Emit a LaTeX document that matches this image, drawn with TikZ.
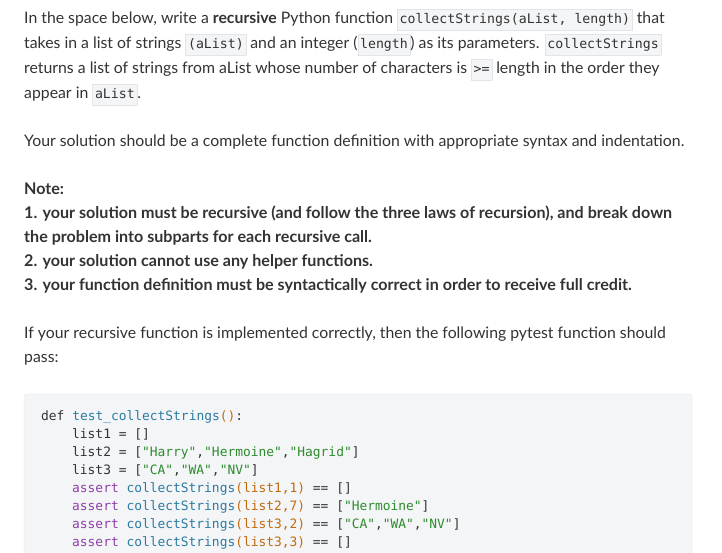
\documentclass[tikz,border=0pt]{standalone}
\usepackage{fontspec}
\setmainfont{Lato}
\setmonofont{DejaVu Sans Mono}
\definecolor{txt}{HTML}{333333}
\definecolor{cbg}{HTML}{F4F5F7}
\definecolor{cbd}{HTML}{E3E4E8}
\definecolor{fn}{HTML}{2B7BA3}
\definecolor{par}{HTML}{C26A10}
\definecolor{str}{HTML}{2E8B2E}
\definecolor{kw}{HTML}{8E3FA8}
\newcommand\ic[1]{{\setlength\fboxsep{2pt}\setlength\fboxrule{0.6pt}\fcolorbox{cbd}{cbg}{\strut\fontsize{13.2}{14}\ttfamily #1}}}
\newcommand\cFn[1]{\textcolor{fn}{#1}}
\newcommand\cPa[1]{\textcolor{par}{#1}}
\newcommand\cSt[1]{\textcolor{str}{#1}}
\newcommand\cKw[1]{\textcolor{kw}{#1}}
\tikzset{tl/.style={anchor=base west,inner sep=0pt,text=txt,font=\fontsize{15.8}{17}\selectfont},
bl/.style={tl,font=\fontsize{16.1}{17}\bfseries},
cl/.style={anchor=base west,inner sep=0pt,text=txt,font=\fontsize{12.9}{15}\ttfamily}}
\begin{document}
\begin{tikzpicture}[x=1pt,y=-1pt]
\useasboundingbox[fill=white] (0,0) rectangle (722,552);
\node[tl] (l1) at (24,23) {In the space below, write a \textbf{recursive} Python function \ic{collectStrings(aList, length)} that};
\node[tl] (l2) at (24,48) {takes in a list of strings \ic{(aList)} and an integer (\ic{length}) as its parameters. \ic{collectStrings}};
\node[tl] (l3) at (24,73) {returns a list of strings from aList whose number of characters is \ic{>=} length in the order they};
\node[tl] (l4) at (24,98) {appear in \ic{aList}.};
\node[tl] (p2) at (24,146) {Your solution should be a complete function definition with appropriate syntax and indentation.};
\node[bl] (n0) at (24,194) {Note:};
\node[bl] (n1) at (24,218) {1. your solution must be recursive (and follow the three laws of recursion), and break down};
\node[bl] (n2) at (24,242) {the problem into subparts for each recursive call.};
\node[bl] (n3) at (24,266) {2. your solution cannot use any helper functions.};
\node[bl] (n4) at (24,290) {3. your function definition must be syntactically correct in order to receive full credit.};
\node[tl] (i1) at (24,338) {If your recursive function is implemented correctly, then the following pytest function should};
\node[tl] (i2) at (24,362) {pass:};
\draw[cbd,fill=cbg,rounded corners=3pt] (24,394) rectangle (692,560);
\node[cl] (c1) at (41,420) {def \cFn{test\_collectStrings}\cPa{()}:};
\node[cl] (c2) at (72,438) {list1 = []};
\node[cl] (c3) at (72,456) {list2 = [\cSt{"Harry"},\cSt{"Hermoine"},\cSt{"Hagrid"}]};
\node[cl] (c4) at (72,474) {list3 = [\cSt{"CA"},\cSt{"WA"},\cSt{"NV"}]};
\node[cl] (c5) at (72,492) {\cKw{assert} \cFn{collectStrings}\cPa{(list1,1)} == []};
\node[cl] (c6) at (72,510) {\cKw{assert} \cFn{collectStrings}\cPa{(list2,7)} == [\cSt{"Hermoine"}]};
\node[cl] (c7) at (72,528) {\cKw{assert} \cFn{collectStrings}\cPa{(list3,2)} == [\cSt{"CA"},\cSt{"WA"},\cSt{"NV"}]};
\node[cl] (c8) at (72,546) {\cKw{assert} \cFn{collectStrings}\cPa{(list3,3)} == []};
\end{tikzpicture}
\end{document}
